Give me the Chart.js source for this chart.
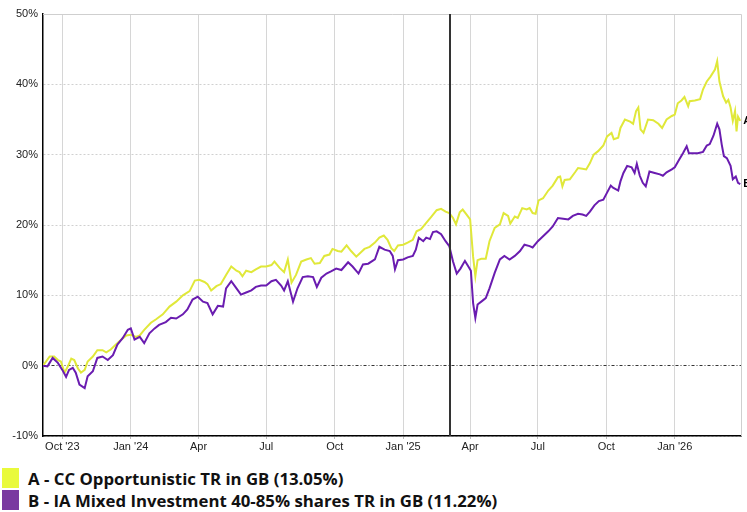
<!DOCTYPE html>
<html>
<head>
<meta charset="utf-8">
<script src="https://cdn.jsdelivr.net/npm/chart.js@4.4.1/dist/chart.umd.min.js"></script>
<style>
  body { margin: 0; background: #fff; width: 747px; height: 512px; overflow: hidden; position: relative; }
  #wrap { position: absolute; left: 0; top: 0; width: 747px; height: 462px; }
  #legend { position: absolute; left: 2px; top: 467px; font-family: "Open Sans", sans-serif; font-weight: 700; font-size: 16.8px; color: #111; }
  .row { display: flex; align-items: center; height: 22px; }
  .box { width: 17px; height: 20px; margin-right: 9px; }
</style>
</head>
<body>
<div id="wrap"><canvas id="chart" width="747" height="462"></canvas></div>
<div id="legend"></div>
<script>
// series A - CC Opportunistic (cumulative % return)
const datesA = ['2023-09-05','2023-09-14','2023-09-20','2023-09-25','2023-09-29','2023-10-04','2023-10-08','2023-10-13','2023-10-17','2023-10-22','2023-10-26','2023-10-31','2023-11-04','2023-11-11','2023-11-17','2023-11-24','2023-11-29','2023-12-05','2023-12-12','2023-12-19','2023-12-26','2024-01-01','2024-01-08','2024-01-13','2024-01-19','2024-01-28','2024-02-04','2024-02-13','2024-02-22','2024-03-02','2024-03-11','2024-03-20','2024-03-27','2024-04-02','2024-04-09','2024-04-13','2024-04-18','2024-04-25','2024-05-01','2024-05-08','2024-05-15','2024-05-22','2024-05-26','2024-05-30','2024-06-04','2024-06-11','2024-06-17','2024-06-24','2024-07-01','2024-07-08','2024-07-12','2024-07-19','2024-07-25','2024-07-30','2024-08-04','2024-08-10','2024-08-17','2024-08-24','2024-08-30','2024-09-04','2024-09-11','2024-09-17','2024-09-24','2024-09-28','2024-10-05','2024-10-10','2024-10-17','2024-10-23','2024-10-30','2024-11-06','2024-11-10','2024-11-17','2024-11-24','2024-11-30','2024-12-06','2024-12-11','2024-12-16','2024-12-20','2024-12-25','2025-01-01','2025-01-07','2025-01-14','2025-01-19','2025-01-25','2025-02-01','2025-02-08','2025-02-15','2025-02-21','2025-02-27','2025-03-04','2025-03-09','2025-03-13','2025-03-18','2025-03-22','2025-03-27','2025-04-01','2025-04-05','2025-04-08','2025-04-11','2025-04-16','2025-04-22','2025-04-27','2025-05-04','2025-05-11','2025-05-16','2025-05-22','2025-05-25','2025-05-31','2025-06-04','2025-06-10','2025-06-16','2025-06-20','2025-06-24','2025-06-28','2025-07-02','2025-07-08','2025-07-15','2025-07-21','2025-07-28','2025-07-31','2025-08-03','2025-08-06','2025-08-13','2025-08-20','2025-08-24','2025-08-30','2025-09-04','2025-09-09','2025-09-14','2025-09-20','2025-09-27','2025-10-02','2025-10-08','2025-10-11','2025-10-17','2025-10-20','2025-10-26','2025-11-02','2025-11-06','2025-11-10','2025-11-13','2025-11-16','2025-11-20','2025-11-26','2025-12-03','2025-12-10','2025-12-15','2025-12-21','2025-12-28','2026-01-01','2026-01-05','2026-01-10','2026-01-14','2026-01-19','2026-01-21','2026-01-28','2026-02-04','2026-02-08','2026-02-13','2026-02-18','2026-02-24','2026-02-27','2026-03-02','2026-03-07','2026-03-11','2026-03-14','2026-03-17','2026-03-20','2026-03-23','2026-03-25','2026-03-27','2026-03-30'];
const valuesA = [0,1.3,1.3,0.8,0.6,-1.0,-0.2,1.0,0.8,-0.4,-1.0,-0.6,0.6,1.3,2.2,2.2,1.9,2.3,3.0,3.7,4.3,4.4,4.1,4.3,5.1,6.1,6.6,7.3,8.4,9.1,10.0,10.6,12.1,12.2,11.9,11.6,10.7,11.3,11.6,12.9,14.1,13.5,13.3,12.7,13.5,13.3,13.7,14.1,14.1,14.3,14.8,13.9,13.3,15.1,11.8,12.9,14.8,15.1,15.3,14.5,14.6,15.6,15.8,16.6,16.3,16.2,17.1,16.3,15.5,16.2,16.6,16.9,17.5,18.2,18.5,17.9,16.7,16.3,17.1,17.2,17.5,17.9,19.1,19.4,20.3,21.2,22.1,22.3,21.9,21.7,21.0,20.1,21.8,22.2,21.5,20.8,15.5,12.7,15.0,15.2,15.2,17.7,19.6,20.1,21.7,21.3,20.2,21.2,21.0,22.4,22.2,22.4,21.7,21.6,23.5,23.8,24.9,25.6,26.8,26.9,25.5,26.4,26.5,27.5,28.1,28.0,27.9,28.8,30.0,30.5,31.3,32.6,33.1,32.2,32.4,33.8,35.0,34.7,34.4,36.2,36.7,33.6,33.1,35.0,34.9,34.4,33.8,35.0,35.5,35.7,37.3,37.7,38.2,36.9,37.6,37.7,37.9,39.3,40.4,41.1,42.1,43.3,40.4,38.3,37.4,37.8,36.7,34.8,36.2,33.3,35.4,34.8];

// series B - IA Mixed Investment 40-85% shares
const datesB = ['2023-09-05','2023-09-11','2023-09-18','2023-09-25','2023-10-01','2023-10-06','2023-10-10','2023-10-15','2023-10-19','2023-10-24','2023-10-31','2023-11-04','2023-11-11','2023-11-17','2023-11-24','2023-12-01','2023-12-08','2023-12-14','2023-12-21','2023-12-28','2024-01-01','2024-01-06','2024-01-13','2024-01-19','2024-01-26','2024-02-02','2024-02-08','2024-02-17','2024-02-24','2024-03-02','2024-03-11','2024-03-17','2024-03-24','2024-03-31','2024-04-07','2024-04-13','2024-04-20','2024-04-27','2024-05-04','2024-05-08','2024-05-15','2024-05-22','2024-05-28','2024-06-04','2024-06-11','2024-06-17','2024-06-24','2024-07-01','2024-07-08','2024-07-14','2024-07-21','2024-07-25','2024-07-30','2024-08-06','2024-08-12','2024-08-19','2024-08-26','2024-09-02','2024-09-07','2024-09-13','2024-09-20','2024-09-26','2024-10-03','2024-10-10','2024-10-19','2024-10-25','2024-11-02','2024-11-08','2024-11-15','2024-11-24','2024-11-30','2024-12-07','2024-12-14','2024-12-18','2024-12-21','2024-12-25','2025-01-01','2025-01-07','2025-01-14','2025-01-18','2025-01-22','2025-01-28','2025-02-01','2025-02-06','2025-02-10','2025-02-15','2025-02-21','2025-02-27','2025-03-04','2025-03-09','2025-03-14','2025-03-19','2025-03-25','2025-03-29','2025-04-02','2025-04-05','2025-04-08','2025-04-11','2025-04-16','2025-04-22','2025-04-27','2025-05-04','2025-05-11','2025-05-17','2025-05-24','2025-05-31','2025-06-07','2025-06-13','2025-06-20','2025-06-24','2025-07-01','2025-07-08','2025-07-15','2025-07-21','2025-07-28','2025-08-04','2025-08-11','2025-08-17','2025-08-24','2025-08-30','2025-09-04','2025-09-09','2025-09-15','2025-09-21','2025-09-27','2025-10-02','2025-10-07','2025-10-10','2025-10-17','2025-10-20','2025-10-24','2025-10-29','2025-11-04','2025-11-08','2025-11-11','2025-11-15','2025-11-19','2025-11-23','2025-11-28','2025-12-05','2025-12-12','2025-12-16','2025-12-21','2025-12-28','2026-01-01','2026-01-07','2026-01-12','2026-01-17','2026-01-20','2026-01-26','2026-02-01','2026-02-08','2026-02-13','2026-02-17','2026-02-22','2026-02-27','2026-03-02','2026-03-05','2026-03-08','2026-03-12','2026-03-17','2026-03-20','2026-03-24','2026-03-27','2026-03-30'];
const valuesB = [0,-0.1,1.1,0.4,-0.6,-1.6,-0.6,-0.3,-1.0,-2.7,-3.2,-1.5,-0.8,1.1,1.3,0.8,1.5,3.0,3.9,5.1,5.3,3.7,4.1,3.2,4.6,5.3,5.8,6.2,6.8,6.7,7.3,8.0,9.4,9.8,9.1,8.9,7.3,8.5,8.4,11.0,12.0,11.0,10.1,10.4,10.7,11.2,11.4,11.4,12.0,12.2,11.4,10.7,12.0,9.1,11.0,12.6,12.7,12.6,11.2,12.5,13.1,13.4,13.8,13.6,14.7,14.1,13.1,14.4,14.5,15.1,16.9,16.5,16.3,15.6,13.7,15.0,15.1,15.4,15.6,16.5,18.2,17.7,18.2,18.0,19.0,19.1,18.7,17.7,17.0,14.8,13.1,13.8,14.9,14.2,13.5,8.9,6.8,8.7,9.1,9.6,11.0,13.2,15.1,15.6,15.1,15.6,16.3,17.2,17.0,16.8,17.7,18.4,19.1,19.8,21.0,20.9,20.8,21.3,21.6,21.5,21.3,21.9,22.8,23.4,23.6,24.6,25.6,25.3,24.9,26.2,27.4,28.4,28.2,27.4,28.7,27.0,26.0,25.5,27.6,27.4,27.2,27.0,27.5,27.9,28.2,29.3,30.2,31.2,30.2,30.2,30.2,30.4,31.3,31.5,32.7,34.4,33.6,31.5,29.8,29.5,28.4,26.5,26.9,26.0,25.8];

const seriesNames = ['A - CC Opportunistic TR in GB (13.05%)', 'B - IA Mixed Investment 40-85% shares TR in GB (11.22%)'];
const seriesTags = ['A', 'B'];
const tickDates = ['2023-10-01','2024-01-01','2024-04-01','2024-07-01','2024-10-01','2025-01-01','2025-04-01','2025-07-01','2025-10-01','2026-01-01'];
const tickLabels = ["Oct '23","Jan '24",'Apr','Jul','Oct',"Jan '25",'Apr','Jul','Oct',"Jan '26"];
const markerDate = '2025-03-05';
const xStart = '2023-09-05';
const xEnd = '2026-03-31';

const lineColors = ['#e0e83a', '#6a1cb0'];
const boxColors = ['#e9fa3b', '#7a3aa0'];

function toDay(s) {
    return Date.parse(s + 'T00:00:00Z') / 86400000;
}

function toPoints(dates, values) {
    return dates.map((d, i) => ({x: toDay(d), y: values[i]}));
}

const tickDays = tickDates.map(toDay);

// vertical marker, right/top frame and end tags
const extras = {
    id: 'extras',
    beforeDatasetsDraw(chart) {
        const {ctx, chartArea: a} = chart;
        ctx.save();
        ctx.strokeStyle = '#cfcfcf';
        ctx.lineWidth = 1;
        ctx.beginPath();
        ctx.moveTo(a.left, a.top + 0.5);
        ctx.lineTo(a.right + 0.5, a.top + 0.5);
        ctx.lineTo(a.right + 0.5, a.bottom);
        ctx.stroke();
        ctx.restore();
    },
    afterDatasetsDraw(chart) {
        const {ctx, chartArea: a, scales: {x}} = chart;
        const mx = Math.round(x.getPixelForValue(toDay(markerDate)));
        ctx.save();
        ctx.strokeStyle = '#333';
        ctx.lineWidth = 2;
        ctx.beginPath();
        ctx.moveTo(mx, a.top);
        ctx.lineTo(mx, a.bottom);
        ctx.stroke();
        ctx.fillStyle = '#000';
        ctx.font = 'bold 11px "Liberation Sans", Arial, sans-serif';
        ctx.textBaseline = 'middle';
        chart.data.datasets.forEach((ds, i) => {
            const meta = chart.getDatasetMeta(i);
            const last = meta.data[meta.data.length - 1];
            ctx.fillText(seriesTags[i], last.x + 3, last.y);
        });
        ctx.restore();
    }
};

const chart = new Chart(document.getElementById('chart'), {
    type: 'line',
    data: {
        datasets: [{
            label: seriesNames[0],
            data: toPoints(datesA, valuesA),
            borderColor: lineColors[0],
            borderWidth: 2,
            pointRadius: 0,
            tension: 0,
            order: 1
        }, {
            label: seriesNames[1],
            data: toPoints(datesB, valuesB),
            borderColor: lineColors[1],
            borderWidth: 2,
            pointRadius: 0,
            tension: 0,
            order: 0
        }]
    },
    options: {
        responsive: false,
        animation: false,
        layout: {padding: {top: 14, right: 6, left: 0, bottom: 0}},
        plugins: {legend: {display: false}, tooltip: {enabled: false}},
        scales: {
            x: {
                type: 'linear',
                min: toDay(xStart),
                max: toDay(xEnd),
                afterBuildTicks: s => { s.ticks = tickDays.map(v => ({value: v})); },
                afterFit: s => { s.height = 26; },
                ticks: {
                    callback: (v) => tickLabels[tickDays.indexOf(v)],
                    autoSkip: false,
                    maxRotation: 0,
                    padding: 1,
                    color: '#222',
                    font: {family: '"Liberation Sans", Arial, sans-serif', size: 11}
                },
                grid: {color: '#d6d6d6', lineWidth: 1, tickLength: 3, tickColor: '#bbb'},
                border: {color: '#000', width: 1.5}
            },
            y: {
                min: -10,
                max: 50,
                afterFit: s => { s.width = 43; },
                ticks: {
                    stepSize: 10,
                    padding: 5,
                    callback: v => v + '%',
                    color: '#222',
                    font: {family: '"Liberation Sans", Arial, sans-serif', size: 11}
                },
                grid: {
                    drawTicks: false,
                    color: c => (c.tick && c.tick.value === 0) ? '#333' : (c.tick && c.tick.value === 50 ? 'rgba(0,0,0,0)' : '#d0d0d0'),
                    lineWidth: 1
                },
                border: {color: '#000', width: 1.5, dash: c => (c.tick && c.tick.value === 0) ? [3, 2, 1, 2] : [2, 2]}
            }
        }
    },
    plugins: [extras]
});

const legend = document.getElementById('legend');
seriesNames.forEach((name, i) => {
    const row = document.createElement('div');
    row.className = 'row';
    row.innerHTML = '<div class="box" style="background:' + boxColors[i] + '"></div><span>' + name + '</span>';
    legend.appendChild(row);
});
</script>
</body>
</html>
